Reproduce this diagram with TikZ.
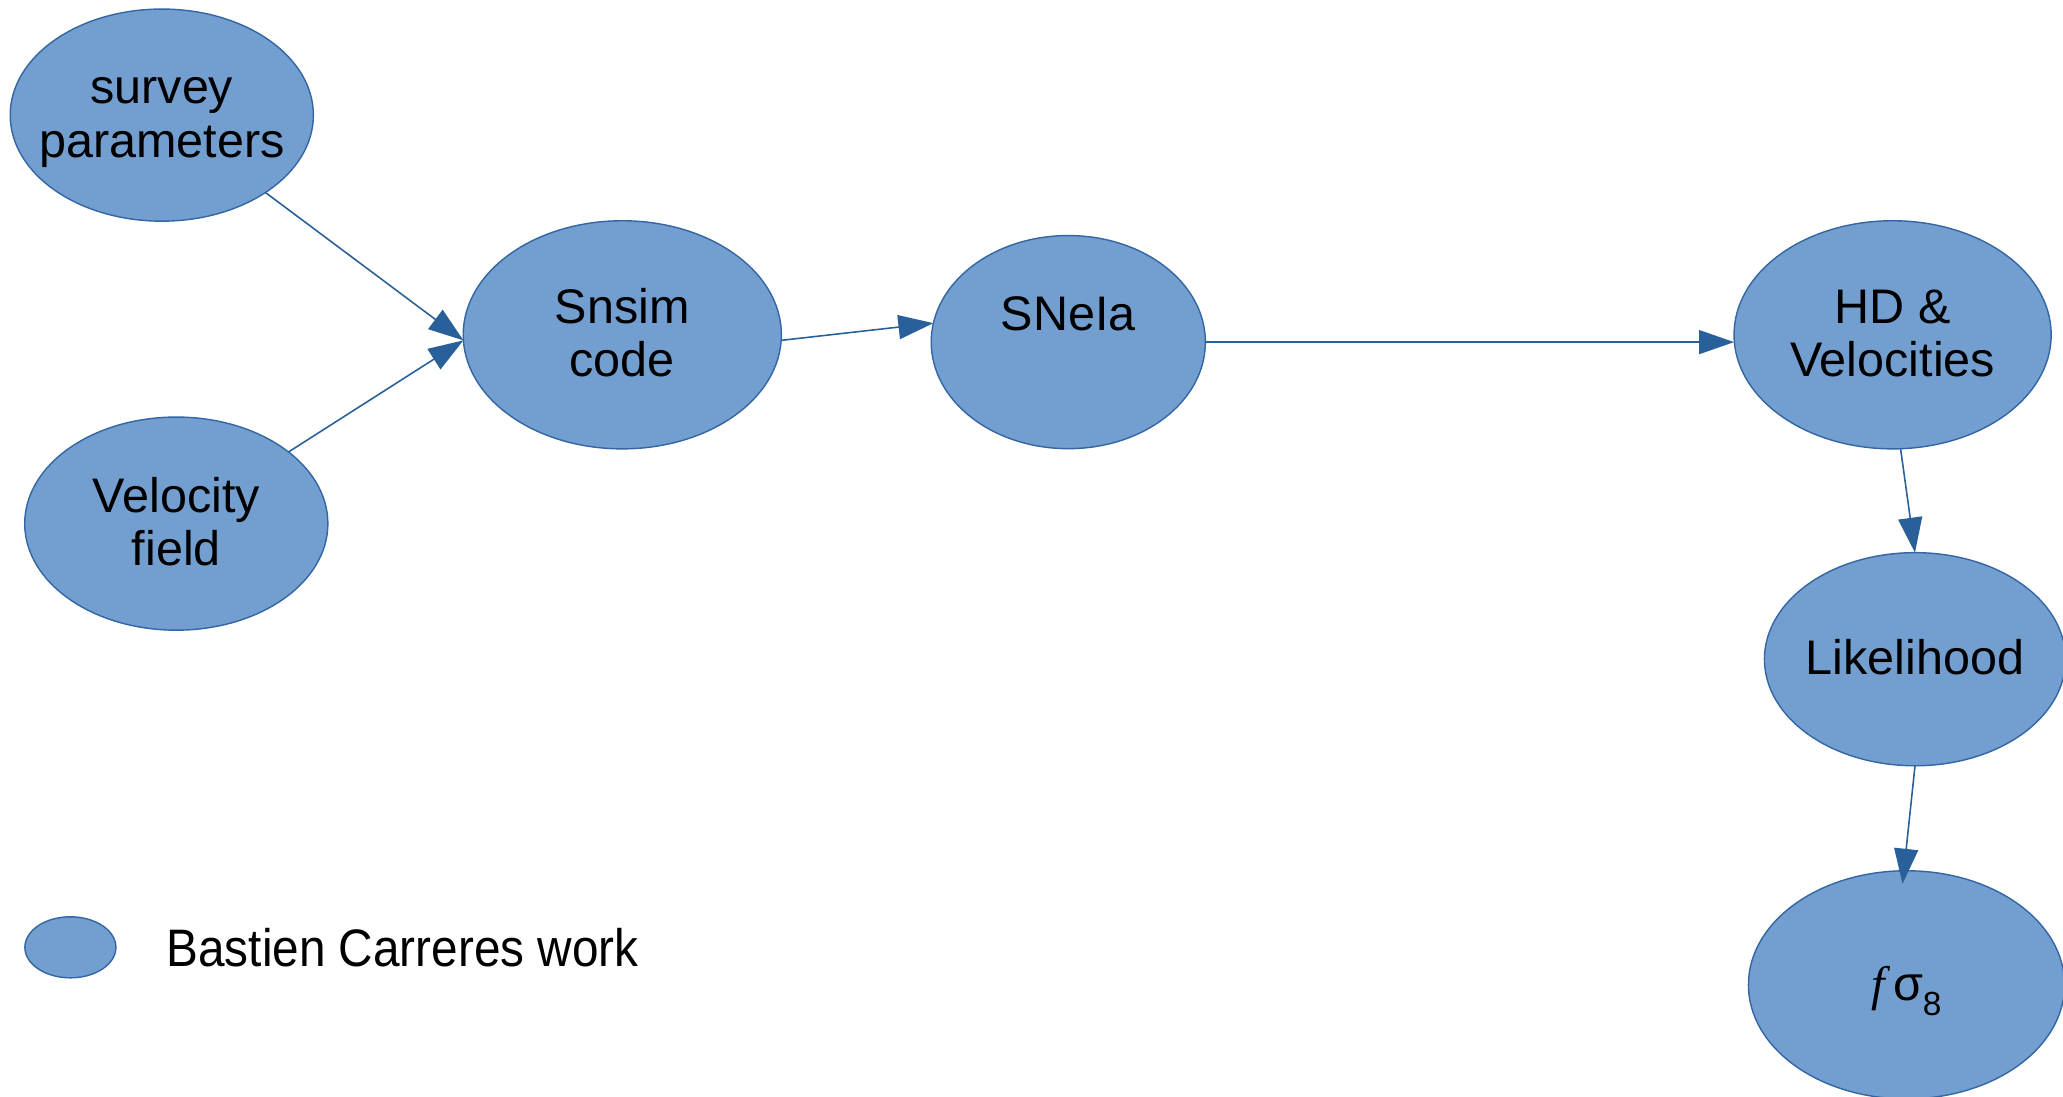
\documentclass[tikz,border=0pt]{standalone}
\usepackage{fontspec}
\usepackage{graphicx}
\setmainfont{Liberation Sans}
\newfontfamily\seriffam{Liberation Serif}
\usetikzlibrary{arrows.meta,shapes.geometric,calc}
\definecolor{fillblue}{HTML}{729FCF}
\definecolor{edgeblue}{HTML}{3465A4}
\definecolor{arrowblue}{HTML}{2A6099}
\newcommand{\ntext}[1]{\raisebox{-4.9pt}[0pt][0pt]{\makebox[0pt]{\begin{tabular}{@{}c@{}}#1\end{tabular}}}}
\begin{document}
\begin{tikzpicture}[x=0.01cm,y=-0.01cm,
  blob/.style={ellipse, fill=fillblue, draw=edgeblue, line width=0.4pt,
    inner sep=0pt, outer sep=0pt, font=\fontsize{13.8}{15.2}\selectfont},
  conn/.style={draw=arrowblue, line width=0.45pt,
    -{Triangle[length=3.5mm,width=2.4mm,fill=arrowblue]}}
]
\useasboundingbox (0,0) rectangle (2063,1096);

\node[blob, minimum width=3.03cm, minimum height=2.12cm] (survey) at (161.8,115.1) {\ntext{survey\\parameters}};
\node[blob, minimum width=3.03cm, minimum height=2.13cm] (velocity) at (176.3,523.6) {\ntext{Velocity\\field}};
\node[blob, minimum width=3.18cm, minimum height=2.28cm] (snsim) at (622.3,334.8) {\ntext{Snsim\\code}};
\node[blob, minimum width=2.74cm, minimum height=2.13cm] (sneia) at (1068.3,342.1) {\ntext{SNeIa\\\mbox{}}};
\node[blob, minimum width=3.17cm, minimum height=2.28cm] (hd) at (1892.6,334.8) {\ntext{HD \&\\Velocities}};
\node[blob, minimum width=3.01cm, minimum height=2.13cm] (lik) at (1915,659.2) {\ntext{Likelihood}};
\node[blob, minimum width=3.16cm, minimum height=2.28cm] (fs8) at (1906.5,984.8) {\ntext{{\seriffam\itshape f}\,σ\raisebox{-0.6ex}{\fontsize{9.5}{10}\selectfont 8}}};

\node[blob, minimum width=0.91cm, minimum height=0.61cm] (legend) at (70.4,947.3) {};
\node[anchor=west, inner sep=0pt, font=\fontsize{15}{17}\selectfont] (legendtext) at (165.8,948) {\scalebox{0.905}[1]{Bastien Carreres work}};

\coordinate (fin) at ($(fs8.north)+(-4,13)$);

\draw[conn] (survey) -- (snsim.182.5);
\draw[conn] (velocity) -- (snsim.182.5);
\draw[conn] (snsim.-2.6) -- (sneia.172.9);
\draw[conn] (sneia.east) -- (sneia.east -| hd.west);
\draw[conn] (hd.-86.4) -- (lik.north);
\draw[conn] (lik.south) -- (fin);
\end{tikzpicture}
\end{document}
